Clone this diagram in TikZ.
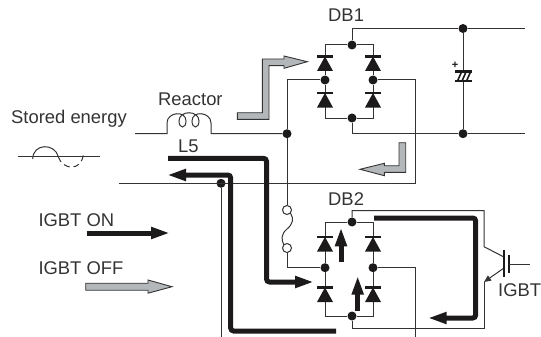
\documentclass[tikz,border=0pt]{standalone}
\usepackage{fontspec}
\setmainfont{Liberation Sans}
\usetikzlibrary{positioning,arrows.meta}

\definecolor{wirecol}{HTML}{333333}
\definecolor{flowcol}{HTML}{1C1A1B}
\definecolor{offcol}{HTML}{B4B7BA}

\begin{document}
\begin{tikzpicture}[
            x=1pt, y=-1pt,
            wire/.style={draw=wirecol, line width=1pt},
            dot/.style={circle, fill=flowcol, inner sep=0pt, minimum size=9pt},
            opencontact/.style={circle, draw=wirecol, line width=1pt, fill=white, inner sep=0pt, minimum size=9pt},
            label/.style={anchor=base west, inner sep=0pt, text=wirecol, font=\fontsize{18.4}{20}\selectfont},
            onflow/.style={draw=flowcol, line width=5pt, rounded corners=3pt, -{Triangle[length=19pt,width=11pt]}},
            offflow/.style={draw=wirecol, line width=0.9pt, fill=offcol},
            diode/.pic={
                \fill[flowcol] (-8.3,-7.6) rectangle (8.3,-5.4);
                \fill[flowcol] (0,-6.5) -- (8,8) -- (-8,8) -- cycle;
            }
        ]
        \useasboundingbox (0,0) rectangle (541,337);

        %labels
        \node[label]    (stored)    at (11,123)     {Stored energy};
        \node[label]    (reactor)   at (158,105.7)  {Reactor};
        \node[label]    (l5)        at (178,152.7)  {L5};
        \node[label]    (db1)       at (328,21.7)   {DB1};
        \node[label]    (db2)       at (328,205.7)  {DB2};
        \node[label]    (ion)       at (38.3,226)   {IGBT ON};
        \node[label]    (ioff)      at (38.3,274.3) {IGBT OFF};
        \node[label]    (igbt)      at (498,296.7)  {IGBT};

        %junctions
        \node[dot]      (db1_top)   at (352,45)     {};
        \node[dot]      (db1_bot)   at (352,118)    {};
        \node[dot]      (db1_left)  at (325,80)     {};
        \node[dot]      (db1_right) at (373,80)     {};
        \node[dot]      (bus_top)   at (463,28.5)   {};
        \node[dot]      (bus_bot)   at (463,133.7)  {};
        \node[dot]      (in_tap)    at (287,133.7)  {};
        \node[dot]      (ac_tap)    at (221,183.3)  {};
        \node[dot]      (db2_top)   at (352,222)    {};
        \node[dot]      (db2_bot)   at (352,316)    {};
        \node[dot]      (db2_left)  at (325,267.7)  {};
        \node[dot]      (db2_right) at (373,267.7)  {};

        %contacts
        \node[opencontact]  (sw_top)    at (287,210)    {};
        \node[opencontact]  (sw_bot)    at (287,248)    {};

        %free ends
        \coordinate (coil_lead) at (135,133.7);
        \coordinate (coil_in)   at (167,133.7);
        \coordinate (coil_out)  at (211,133.7);
        \coordinate (bus_a)     at (525,28.5);
        \coordinate (bus_b)     at (525,133.7);
        \coordinate (ac_end)    at (119,183.3);
        \coordinate (ac_turn)   at (415,183.3);
        \coordinate (tap_end)   at (221,337);
        \coordinate (out_end)   at (415,337);
        \coordinate (cap_up)    at (463,71.7);
        \coordinate (cap_dn)    at (463,81);
        \coordinate (ce_top)    at (484,246.7);
        \coordinate (ce_bot)    at (484,282);
        \coordinate (col_in)    at (504,257);
        \coordinate (em_out)    at (504,268);
        \coordinate (gate_in)   at (509,264);
        \coordinate (gate_end)  at (530,264);

        %rectifier wiring
        \draw[wire] (db1_top) -| (db1_left) |- (db1_bot);
        \draw[wire] (db1_top) -| (db1_right) |- (db1_bot);
        \draw[wire] (db2_top) -| (db2_left) |- (db2_bot);
        \draw[wire] (db2_top) -| (db2_right) |- (db2_bot);

        %bus and capacitor
        \draw[wire] (db1_top) |- (bus_top) -- (bus_a);
        \draw[wire] (db1_bot) |- (bus_bot) -- (bus_b);
        \draw[wire] (bus_top) -- (cap_up);
        \draw[wire] (bus_bot) -- (cap_dn);
        \draw[flowcol, line width=2.8pt] (455,71.7) -- (472,71.7) (455,81) -- (472,81);
        \draw[flowcol, line width=1.6pt] (457.5,81) -- (461.5,72) (462,81) -- (466,72) (466.5,81) -- (470.5,72);
        \node[inner sep=0pt, text=flowcol, font=\fontsize{11}{11}\selectfont\bfseries] (cap_plus) at (455,65.7) {+};

        %reactor
        \draw[wire] (coil_lead) -- (coil_in) -- (167,123)
            .. controls (167,112) and (186,110) .. (186,121)
            .. controls (186,129) and (179,129) .. (179,121)
            .. controls (179,110) and (199,110) .. (199,121)
            .. controls (199,129) and (192,129) .. (192,121)
            .. controls (192,110) and (211,112) .. (211,123)
            -- (coil_out) -- (in_tap);

        %feeds
        \draw[wire] (db1_left) -| (in_tap);
        \draw[wire] (in_tap) -- (sw_top);
        \draw[wire] (sw_bot) |- (db2_left);
        \draw[wire] (290.5,213) .. controls (294,219) and (293,224) .. (287,229)
            .. controls (281,234) and (281,240) .. (284,245);
        \draw[wire] (db1_right) -| (ac_turn) -- (ac_end);
        \draw[wire] (ac_tap) -- (tap_end);
        \draw[wire] (db2_right) -| (out_end);

        %igbt
        \draw[wire] (db2_top) |- (484,210.7) -- (ce_top) -- (col_in);
        \draw[wire] (db2_bot) |- (484,328) -- (ce_bot);
        \draw[wire, -{Triangle[length=7pt,width=6pt]}] (em_out) -- (ce_bot);
        \draw[flowcol, line width=2pt] (504.3,250) -- (504.3,276.7);
        \draw[flowcol, line width=1.2pt] (509,255) -- (509,272.7);
        \draw[wire] (gate_in) -- (gate_end);

        %diodes
        \foreach \dx/\dy in {325/63, 373/63, 325/99.5, 373/99.5, 325/243.5, 373/243.5, 325/294, 373/294}
            \pic at (\dx,\dy) {diode};

        %waveform
        \draw[wire] (18.3,156.7) -- (100,156.7);
        \draw[wire] (32.7,159) .. controls (33,143) and (55,143) .. (58.3,156.7);
        \draw[wire, dash pattern=on 6pt off 4pt] (58.3,156.7) .. controls (62,170) and (82,172) .. (83.3,154);

        %current paths
        \draw[onflow] (168,158.3) -- (266.5,158.3) -- (266.5,282) -- (314,282);
        \draw[onflow] (336,331) -- (230.7,331) -- (230.7,175) -- (167,175);
        \draw[onflow] (374,218) -- (475.7,218) -- (475.7,318) -- (427.7,318);
        \draw[onflow, rounded corners=0pt] (341,261.7) -- (341,227.3);
        \draw[onflow, rounded corners=0pt] (357.7,310.7) -- (357.7,275.7);
        \draw[onflow, rounded corners=0pt] (86.7,233) -- (170,233);

        %off paths
        \draw[offflow] (237.3,112.7) -- (262.3,112.7) -- (262.3,59) -- (284,59) -- (284,56) -- (307.3,61.7)
            -- (284,68.3) -- (284,65.7) -- (269,65.7) -- (269,119.3) -- (237.3,119.3) -- cycle;
        \draw[offflow] (399,142.7) -- (405.7,142.7) -- (405.7,172.3) -- (384.3,172.3) -- (384.3,175.7) -- (360,169.3)
            -- (384.3,163.3) -- (384.3,165.7) -- (399,165.7) -- cycle;
        \draw[offflow] (85.7,283.2) -- (148,283.2) -- (148,280) -- (172,286.7) -- (148,293.2) -- (148,290.2) -- (85.7,290.2) -- cycle;
\end{tikzpicture}
\end{document}
